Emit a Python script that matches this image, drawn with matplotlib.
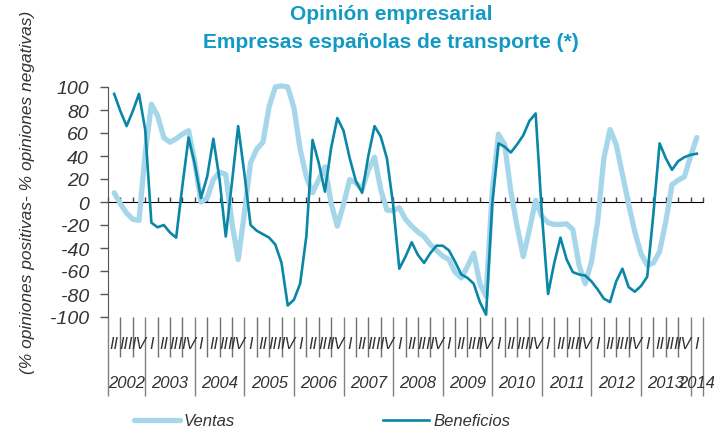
import matplotlib
matplotlib.use('Agg')
import matplotlib.pyplot as plt
import numpy as np

plt.rcParams['font.family'] = ['Liberation Sans', 'DejaVu Sans']

# categorias trimestrales: 2002-II ... 2014-I
quarters = ["II", "III", "IV"] + ["I", "II", "III", "IV"] * 11 + ["I"]
years = [str(y) for y in range(2002, 2015)]

# valores leidos cada medio trimestre (posicion en unidades de trimestre)
pos = np.arange(95) * 0.5

ventas = [8, -1.5, -9.6, -15, -16, 42, 85, 75, 56, 52,
          55, 59, 62, 35, 0, 3.5, 19.5, 26, 24, -18,
          -50, -10, 34, 46, 52, 83, 100, 101, 100, 82,
          46, 22, 8, 19.5, 30.6, -1, -21, -2, 19.5, 16.6,
          11, 28, 39, 11, -7, -7.6, -5, -15, -21, -26,
          -30, -37, -42, -47, -50, -61, -66, -56, -44.5, -71,
          -82, 10, 59, 50, 9, -21, -47.5, -24, 1.5, -12.5,
          -18, -19.5, -19.5, -19, -24, -55, -71, -52, -17, 38,
          63, 50, 24, -2, -26, -45, -55, -53, -43, -17,
          15, 19, 22, 40, 56]

beneficios = [94, 79, 66, 79, 94, 63, -18, -22, -20, -26.5,
              -31, 14, 56, 33, 3.5, 22, 55, 19.5, -30, 17,
              66, 25, -20, -25, -28, -31, -37, -53, -90, -85,
              -71, -30, 54, 34, 9, 47, 73, 62, 38, 18,
              8, 40, 66, 57, 38, -2, -58, -47.5, -35, -46,
              -53, -44.5, -38, -38, -42, -52, -63, -66, -71, -87,
              -98, -1, 51, 48, 43, 50, 58, 70.5, 77, -10,
              -80, -53, -31, -50, -61, -63, -64, -69, -76, -84,
              -87, -69, -58, -74, -78, -73, -65, -10, 51, 38,
              28, 35.5, 39, 41, 42]

c_light = '#a6d6ea'
c_dark = '#0a86a6'
c_title = '#139ac4'
c_text = '#333333'

fig = plt.figure(figsize=(7.14, 4.35), dpi=100)
ax = fig.add_axes([108 / 714, 117 / 435, 595 / 714, 230 / 435])

ax.plot(pos, ventas, color=c_light, lw=3.8, solid_capstyle='round',
        solid_joinstyle='round', clip_on=False, label='Ventas', zorder=3)
ax.plot(pos, beneficios, color=c_dark, lw=1.9, solid_joinstyle='round',
        clip_on=False, label='Beneficios', zorder=4)

n = len(quarters)
ax.set_xlim(-0.5, n - 0.5)
ax.set_ylim(-100, 100)

# eje y
ax.set_yticks(range(-100, 101, 20))
ax.set_yticklabels([str(v) for v in range(-100, 101, 20)], fontsize=14,
                   style='italic', color=c_text)
ax.tick_params(axis='y', length=5.8, width=1, color='#555555', pad=8)
ax.spines['left'].set_color('#555555')
for s in ['top', 'right', 'bottom']:
    ax.spines[s].set_visible(False)

# separadores de trimestres y de años
bounds = np.arange(n + 1) - 0.5
year_starts = [i for i, q in enumerate(quarters) if q == "I"]
year_bounds = [-0.5] + [i - 0.5 for i in year_starts] + [n - 0.5]
ax.set_xticks(year_bounds)
ax.set_xticklabels([])
ax.set_xticks(bounds, minor=True)
ax.tick_params(axis='x', which='major', length=57, width=1, color='#808080')
ax.tick_params(axis='x', which='minor', length=29, width=1, color='#707070')

# linea de cero con marcas
sec = ax.secondary_xaxis(0.5)
sec.set_xticks(bounds)
sec.set_xticklabels([])
sec.tick_params(length=3.6, width=1, color='#444444')
sec.spines['bottom'].set_color('#444444')

tr = ax.get_xaxis_transform()
for i, q in enumerate(quarters):
    ax.text(i, -0.117, q, transform=tr, ha='center', va='center',
            fontsize=11.5, style='italic', color=c_text)
for k, y in enumerate(years):
    a, b = year_bounds[k], year_bounds[k + 1]
    ax.text((a + b) / 2, -0.283, y, transform=tr, ha='center', va='center',
            fontsize=12, style='italic', color=c_text)

fig.text(28 / 714, 1 - 192 / 435, '(% opiniones positivas- % opiniones negativas)',
         rotation=90, ha='center', va='center', fontsize=12.5, style='italic',
         color=c_text)

fig.text(391 / 714, 1 - 15 / 435, 'Opinión empresarial', ha='center', va='center',
         fontsize=15, fontweight='bold', color=c_title)
fig.text(391 / 714, 1 - 42 / 435, 'Empresas españolas de transporte (*)',
         ha='center', va='center', fontsize=15, fontweight='bold', color=c_title)

leg = fig.legend(loc='center', bbox_to_anchor=(322 / 714, 13 / 435), ncol=2,
                 frameon=False, fontsize=12, handlelength=2.75,
                 handletextpad=0.25, columnspacing=8.9)
for t in leg.get_texts():
    t.set_style('italic')
    t.set_color(c_text)

fig.savefig('out.png', dpi=100)
